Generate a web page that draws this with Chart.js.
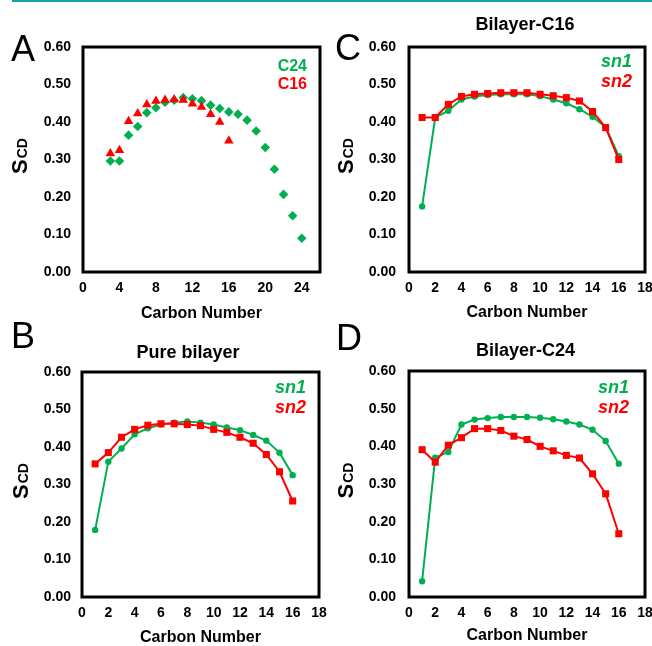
<!DOCTYPE html>
<html>
<head>
<meta charset="utf-8">
<script src="https://cdn.jsdelivr.net/npm/chart.js@4.4.0/dist/chart.umd.min.js"></script>
<style>
html,body{margin:0;padding:0;background:#fff;}
body{width:652px;height:646px;position:relative;overflow:hidden;}
canvas{position:absolute;display:block;}
#rule{position:absolute;left:12px;top:0;width:640px;height:2px;background:#14a3a0;}
</style>
</head>
<body>
<div id="rule"></div>
<canvas id="cA" width="332" height="323" style="left:0;top:0"></canvas>
<canvas id="cC" width="326" height="323" style="left:326px;top:0"></canvas>
<canvas id="cB" width="332" height="326" style="left:0;top:320px"></canvas>
<canvas id="cD" width="326" height="326" style="left:326px;top:320px"></canvas>
<script>
// ---------------- data ----------------
const carbonA   = [3,4,5,6,7,8,9,10,11,12,13,14,15,16,17,18,19,20,21,22,23,24];
const scdC24    = [0.296,0.296,0.365,0.388,0.425,0.438,0.453,0.458,0.465,0.462,0.457,0.445,0.436,0.427,0.421,0.405,0.376,0.332,0.274,0.207,0.150,0.090];
const carbonC16 = [3,4,5,6,7,8,9,10,11,12,13,14,15,16];
const scdC16    = [0.316,0.325,0.402,0.423,0.447,0.456,0.459,0.460,0.459,0.449,0.440,0.421,0.400,0.350];

const carbonSn  = [1,2,3,4,5,6,7,8,9,10,11,12,13,14,15,16];
const pureSn1   = [0.179,0.361,0.396,0.434,0.450,0.460,0.465,0.468,0.465,0.460,0.452,0.445,0.432,0.417,0.385,0.325];
const pureSn2   = [0.355,0.385,0.426,0.447,0.458,0.462,0.462,0.460,0.457,0.447,0.439,0.426,0.410,0.380,0.334,0.256];
const c16Sn1    = [0.175,0.412,0.430,0.460,0.468,0.472,0.474,0.474,0.474,0.469,0.460,0.450,0.434,0.414,0.386,0.309];
const c16Sn2    = [0.412,0.412,0.447,0.468,0.474,0.476,0.478,0.478,0.478,0.474,0.470,0.465,0.456,0.428,0.385,0.300];
const c24Sn1    = [0.042,0.370,0.385,0.458,0.471,0.475,0.478,0.478,0.478,0.476,0.472,0.466,0.458,0.444,0.414,0.354];
const c24Sn2    = [0.391,0.358,0.403,0.423,0.447,0.447,0.442,0.427,0.418,0.400,0.388,0.376,0.369,0.327,0.274,0.168];

const xTicksA   = [0,4,8,12,16,20,24];
const xTicksSn  = [0,2,4,6,8,10,12,14,16,18];
const yTicks    = [0,0.1,0.2,0.3,0.4,0.5,0.6];

const labelsA   = ['C24','C16'];
const labelsSn  = ['sn1','sn2'];
const titleB = 'Pure bilayer', titleC = 'Bilayer-C16', titleD = 'Bilayer-C24';
const xAxisTitle = 'Carbon Number';
const yAxisMain = 'S', yAxisSub = 'CD';

// ---------------- style ----------------
const GREEN = '#00B050', RED = '#FF0000';
const FONT = 'Arial, "Liberation Sans", sans-serif';

function pts(xs, ys){ return xs.map((x,i)=>({x:x, y:ys[i]})); }

const decor = {
  id:'decor',
  afterDraw(chart, args, o){
    const ctx = chart.ctx, a = chart.chartArea;
    ctx.save();
    ctx.lineWidth = 3; ctx.strokeStyle = '#000';
    ctx.strokeRect(a.left, a.top, a.right - a.left, a.bottom - a.top);
    ctx.fillStyle = '#000';
    // panel title
    if (o.title) {
      ctx.font = 'bold 18px ' + FONT;
      ctx.textAlign = 'center'; ctx.textBaseline = 'middle';
      ctx.fillText(o.title, o.titleX, o.titleY);
    }
    // panel letter
    ctx.font = '36px ' + FONT;
    ctx.textAlign = 'left'; ctx.textBaseline = 'alphabetic';
    ctx.fillText(o.letter, o.letterX, o.letterY);
    // y axis title S_CD
    ctx.save();
    const cy = (a.top + a.bottom)/2 - 3;
    ctx.translate(o.yTitleX, cy);
    ctx.rotate(-Math.PI/2);
    const fMain = 'bold 22px ' + FONT, fSub = 'bold 14px ' + FONT;
    ctx.font = fMain; const wM = ctx.measureText(yAxisMain).width;
    ctx.font = fSub;  const wS = ctx.measureText(yAxisSub).width;
    const x0 = -(wM + wS)/2;
    ctx.font = fMain; ctx.fillText(yAxisMain, x0, 0);
    ctx.font = fSub;  ctx.fillText(yAxisSub, x0 + wM + 1, 0);
    ctx.restore();
    // legend text
    ctx.textAlign = 'right';
    ctx.font = o.legendFont;
    o.legendOrder.forEach((di, k) => {
      const ds = chart.data.datasets[di];
      ctx.fillStyle = ds.borderColor;
      ctx.fillText(ds.label, o.legendX, o.legendY[k]);
    });
    ctx.restore();
  }
};

function makeChart(id, p){
  return new Chart(document.getElementById(id), {
    type: 'scatter',
    data: { datasets: p.datasets },
    plugins: [decor],
    options: {
      responsive: false, animation: false, devicePixelRatio: 1,
      layout: { padding: { top: p.padTop, right: p.padRight, left: 0, bottom: 0 } },
      plugins: {
        legend: { display: false },
        tooltip: { enabled: false },
        title: { display: false },
        decor: p.decor
      },
      scales: {
        x: {
          type: 'linear', min: 0, max: p.xMax,
          grid: { display: false, drawTicks: false },
          border: { display: false },
          afterBuildTicks: s => { s.ticks = p.xTicks.map(v => ({ value: v })); },
          afterFit: s => { s.height = p.xAxisH; s.paddingLeft = 0; s.paddingRight = 0; },
          ticks: { autoSkip: false, maxRotation: 0, minRotation: 0, padding: 8, color: '#000',
                   font: { family: FONT, size: 14, weight: 'bold' }, callback: v => String(v) },
          title: { display: true, text: xAxisTitle, color: '#000',
                   font: { family: FONT, size: 16, weight: 'bold', lineHeight: 1 },
                   padding: { top: 0, bottom: p.xTitlePad } }
        },
        y: {
          type: 'linear', min: 0, max: 0.6,
          grid: { display: false, drawTicks: false },
          border: { display: false },
          afterBuildTicks: s => { s.ticks = yTicks.map(v => ({ value: v })); },
          afterFit: s => { s.width = p.yAxisW; s.paddingTop = 0; s.paddingBottom = 0; },
          ticks: { autoSkip: false, padding: p.yPad, color: '#000',
                   font: { family: FONT, size: 14, weight: 'bold' }, callback: v => Number(v).toFixed(2) }
        }
      }
    }
  });
}

function snSets(s1, s2){
  return [
    { label: labelsSn[0], data: pts(carbonSn, s1), showLine: true, borderColor: GREEN, backgroundColor: GREEN,
      borderWidth: 2, pointStyle: 'circle', pointRadius: 3.2, pointBorderWidth: 0, order: 2 },
    { label: labelsSn[1], data: pts(carbonSn, s2), showLine: true, borderColor: RED, backgroundColor: RED,
      borderWidth: 2, pointStyle: 'rect', pointRadius: 5, pointBorderWidth: 0, order: 1 }
  ];
}

// Panel A
makeChart('cA', {
  datasets: [
    { label: labelsA[0], data: pts(carbonA, scdC24), showLine: false, borderColor: GREEN, backgroundColor: GREEN,
      pointStyle: 'rectRot', pointRadius: 4.8, pointBorderWidth: 0, order: 2 },
    { label: labelsA[1], data: pts(carbonC16, scdC16), showLine: false, borderColor: RED, backgroundColor: RED,
      pointStyle: 'triangle', pointRadius: 5.5, pointBorderWidth: 0, order: 1 }
  ],
  padTop: 47, padRight: 332 - 320, xMax: 26, xTicks: xTicksA,
  xAxisH: 323 - 272, xTitlePad: 1, yAxisW: 83, yPad: 12,
  decor: { letter: 'A', letterX: 11, letterY: 61, yTitleX: 27,
           legendFont: 'bold 16px ' + FONT, legendOrder: [0,1], legendX: 307, legendY: [71, 89] }
});

// Panel C
makeChart('cC', {
  datasets: snSets(c16Sn1, c16Sn2),
  padTop: 47, padRight: 326 - 319, xMax: 18, xTicks: xTicksSn,
  xAxisH: 323 - 272, xTitlePad: 2.5, yAxisW: 83, yPad: 13,
  decor: { title: titleC, titleX: 199, titleY: 25.5,
           letter: 'C', letterX: 9, letterY: 60, yTitleX: 27,
           legendFont: 'italic bold 18px ' + FONT, legendOrder: [0,1], legendX: 306, legendY: [67, 87] }
});

// Panel B
makeChart('cB', {
  datasets: snSets(pureSn1, pureSn2),
  padTop: 52, padRight: 332 - 319, xMax: 18, xTicks: xTicksSn,
  xAxisH: 326 - 277, xTitlePad: 0, yAxisW: 82, yPad: 11,
  decor: { title: titleB, titleX: 188, titleY: 33,
           letter: 'B', letterX: 11, letterY: 28, yTitleX: 28,
           legendFont: 'italic bold 18px ' + FONT, legendOrder: [0,1], legendX: 306, legendY: [73, 93] }
});

// Panel D
makeChart('cD', {
  datasets: snSets(c24Sn1, c24Sn2),
  padTop: 51, padRight: 326 - 319, xMax: 18, xTicks: xTicksSn,
  xAxisH: 326 - 277, xTitlePad: 2.5, yAxisW: 83, yPad: 13,
  decor: { title: titleD, titleX: 199.5, titleY: 31,
           letter: 'D', letterX: 10, letterY: 30, yTitleX: 27,
           legendFont: 'italic bold 18px ' + FONT, legendOrder: [0,1], legendX: 303, legendY: [73, 93] }
});
</script>
</body>
</html>
